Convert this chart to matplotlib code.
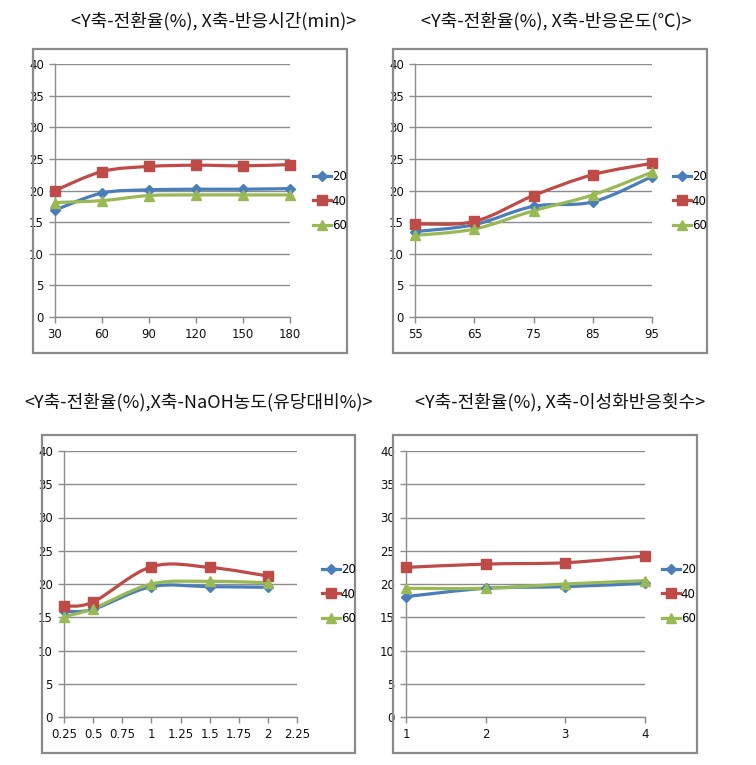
import numpy as np
import matplotlib.pyplot as plt
from matplotlib.path import Path
from matplotlib.patches import PathPatch, Rectangle
from matplotlib.lines import Line2D

# --- DATA ---
SERIES = ['20', '40', '60']

x_time = [30, 60, 90, 120, 150, 180]
time_20 = [16.9, 19.6, 20.1, 20.2, 20.2, 20.3]
time_40 = [20.0, 23.0, 23.8, 24.0, 23.9, 24.1]
time_60 = [18.1, 18.4, 19.2, 19.3, 19.3, 19.3]

x_temp = [55, 65, 75, 85, 95]
temp_20 = [13.5, 14.6, 17.5, 18.2, 22.2]
temp_40 = [14.7, 15.1, 19.2, 22.5, 24.3]
temp_60 = [12.9, 13.9, 16.8, 19.3, 22.9]

x_naoh = [0.25, 0.5, 1, 1.5, 2]
naoh_20 = [15.9, 16.2, 19.6, 19.6, 19.5]
naoh_40 = [16.7, 17.3, 22.6, 22.5, 21.2]
naoh_60 = [15.1, 16.3, 20.0, 20.4, 20.2]

x_rep = [1, 2, 3, 4]
rep_20 = [18.1, 19.35, 19.6, 20.1]
rep_40 = [22.5, 23.0, 23.2, 24.2]
rep_60 = [19.35, 19.35, 20.0, 20.5]

TITLES = ['<Y축-전환율(%), X축-반응시간(min)>',
          '<Y축-전환율(%), X축-반응온도(℃)>',
          '<Y축-전환율(%),X축-NaOH농도(유당대비%)>',
          '<Y축-전환율(%), X축-이성화반응횟수>']

# --- STYLE ---
W, H = 756, 765
COLORS = ['#4A7EBB', '#BE4B48', '#98B954']
MARKERS = ['D', 's', '^']
MSIZES = [5, 7, 7]
GRID = '#8C8C8C'
TICK_FONT = ['Liberation Sans Narrow', 'DejaVu Sans']
TITLE_FONT = ['Noto Sans CJK KR', 'DejaVu Sans']


def fig_rect(x0, y0, x1, y1):
    """pixel box (top-left origin) -> figure fraction [l, b, w, h]"""
    return [x0 / W, 1 - y1 / H, (x1 - x0) / W, (y1 - y0) / H]


def smooth_path(xs, ys):
    """Excel-like smoothed line through the points (cubic Bezier)."""
    p = np.column_stack([xs, ys]).astype(float)
    n = len(p)
    verts = [p[0]]
    codes = [Path.MOVETO]
    for i in range(n - 1):
        p_prev = p[i - 1] if i > 0 else p[i]
        p_next2 = p[i + 2] if i + 2 < n else p[i + 1]
        c1 = p[i] + (p[i + 1] - p_prev) / 6
        c2 = p[i + 1] - (p_next2 - p[i]) / 6
        verts += [c1, c2, p[i + 1]]
        codes += [Path.CURVE4] * 3
    return Path(verts, codes)


def draw_panel(fig, frame, box, xs, ys_list, xlim, xticks, xticklabels, legend_xy):
    fig.patches.append(Rectangle((frame[0] / W, 1 - frame[3] / H),
                                 (frame[2] - frame[0]) / W, (frame[3] - frame[1]) / H,
                                 transform=fig.transFigure, fill=False,
                                 ec='#8A8A8A', lw=1.6, zorder=0))
    ax = fig.add_axes(fig_rect(*box))
    for ys, c, m, ms in zip(ys_list, COLORS, MARKERS, MSIZES):
        ax.add_patch(PathPatch(smooth_path(xs, ys), fill=False, ec=c, lw=2.3,
                               capstyle='round', joinstyle='round', zorder=3))
        ax.plot(xs, ys, ls='none', marker=m, ms=ms, color=c, mec=c, zorder=4,
                clip_on=False)
    ax.set_xlim(*xlim)
    ax.set_ylim(0, 40)
    ax.set_yticks(np.arange(0, 41, 5))
    ax.set_xticks(xticks)
    ax.set_xticklabels(xticklabels)
    ax.yaxis.grid(True, color=GRID, lw=1.0)
    ax.set_axisbelow(True)
    for s in ['top', 'right']:
        ax.spines[s].set_visible(False)
    for s in ['left', 'bottom']:
        ax.spines[s].set_color(GRID)
        ax.spines[s].set_linewidth(1.0)
    ax.tick_params(axis='both', length=4, width=1.0, color=GRID, labelsize=8.5,
                   pad=4, labelcolor='#111111')
    for lab in ax.get_xticklabels() + ax.get_yticklabels():
        lab.set_family(TICK_FONT)

    handles = [Line2D([0], [0], color=c, lw=2.3, marker=m, ms=ms, mec=c)
               for c, m, ms in zip(COLORS, MARKERS, MSIZES)]
    fig.legend(handles, SERIES, loc='center left',
               bbox_to_anchor=(legend_xy[0] / W, 1 - legend_xy[1] / H),
               frameon=False, handlelength=1.5, handletextpad=0.1,
               labelspacing=0.95, borderpad=0,
               prop={'family': TICK_FONT, 'size': 8.5})
    return ax


fig = plt.figure(figsize=(W / 100, H / 100), dpi=100)
fig.patch.set_facecolor('white')

draw_panel(fig, (33, 49, 347, 353), (55, 64, 290, 317), x_time,
           [time_20, time_40, time_60], (30, 180), x_time,
           [str(v) for v in x_time], (307, 201))
draw_panel(fig, (393, 49, 707, 353), (415, 64, 652, 317), x_temp,
           [temp_20, temp_40, temp_60], (55, 95), x_temp,
           [str(v) for v in x_temp], (667, 201))

naoh_ticks = np.arange(0.25, 2.26, 0.25)
draw_panel(fig, (42, 435, 355, 753), (64, 451, 297, 717), x_naoh,
           [naoh_20, naoh_40, naoh_60], (0.25, 2.25), naoh_ticks,
           ['{:g}'.format(v) for v in naoh_ticks], (316, 594))
draw_panel(fig, (393, 435, 697, 753), (406, 451, 645, 717), x_rep,
           [rep_20, rep_40, rep_60], (1, 4), x_rep,
           [str(v) for v in x_rep], (656, 594))

for (cx, cy), t in zip([(214, 21), (556, 21), (199, 402), (560, 402)], TITLES):
    fig.text(cx / W, 1 - cy / H, t, ha='center', va='center',
             family=TITLE_FONT, fontsize=13, color='#111111')

fig.savefig('out.png', dpi=100)
